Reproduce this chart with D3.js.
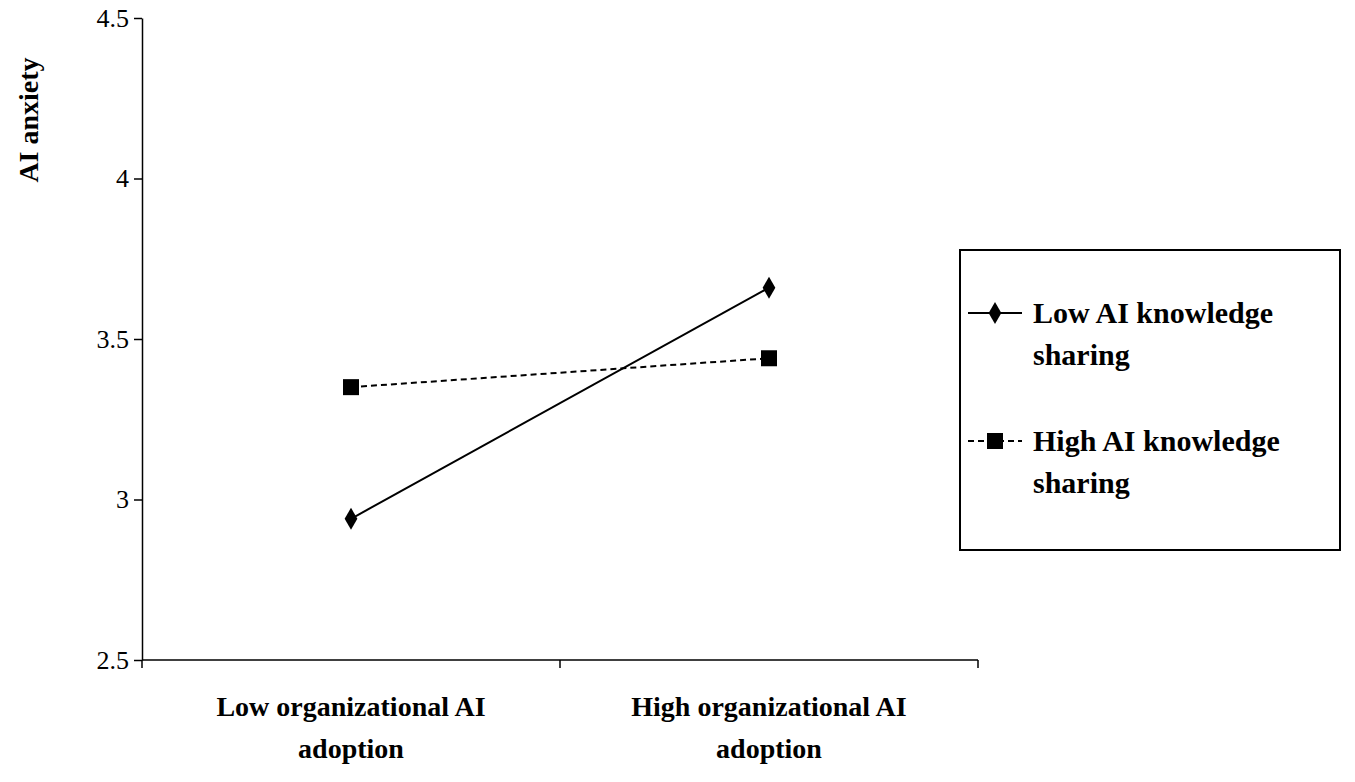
<!DOCTYPE html>
<html><head><meta charset="utf-8">
<script src="https://cdn.jsdelivr.net/npm/d3@7"></script>
<style>body{margin:0;background:#fff}svg{font-family:"Liberation Serif","Times New Roman",serif}</style>
</head><body><svg width="1355" height="782"></svg>
<script>
const categories = [["Low organizational AI","adoption"],["High organizational AI","adoption"]];
const lowKS = [2.94, 3.66];
const highKS = [3.35, 3.44];
const yTicks = [2.5, 3, 3.5, 4, 4.5];
const seriesNames = [["Low AI knowledge","sharing"],["High AI knowledge","sharing"]];

const svg = d3.select("svg");
const x0 = 142, x1 = 978, yTop = 18, yBot = 660;
const y = d3.scaleLinear().domain([2.5,4.5]).range([yBot,yTop]);
const x = d3.scaleBand().domain([0,1]).range([x0,x1]);
const cx = i => x(i) + x.bandwidth()/2;

const ya = svg.append("g").attr("transform",`translate(${x0},0)`)
  .call(d3.axisLeft(y).tickValues(yTicks).tickFormat(d3.format("")).tickSize(8).tickSizeOuter(0));
ya.selectAll("text").attr("font-size",26).attr("font-family","Liberation Serif").attr("fill","#000").attr("dx",-2);
ya.selectAll("line,path").attr("stroke","#000").attr("stroke-width",1.5);

const xa = svg.append("g").attr("transform",`translate(0,${yBot})`);
xa.append("line").attr("x1",x0).attr("x2",x1).attr("stroke","#000").attr("stroke-width",1.5);
[x0, x0+x.bandwidth(), x1].forEach(v=>xa.append("line").attr("x1",v).attr("x2",v).attr("y2",8).attr("stroke","#000").attr("stroke-width",1.5));
categories.forEach((c,i)=>{
  const t = svg.append("text").attr("x",cx(i)).attr("y",yBot+56).attr("text-anchor","middle")
   .attr("font-size",28).attr("font-weight","bold");
  c.forEach((s,j)=>t.append("tspan").attr("x",cx(i)).attr("dy",j?42:0).text(s));
});

svg.append("text").attr("transform","translate(38,120) rotate(-90)").attr("text-anchor","middle")
  .attr("font-size",28).attr("font-weight","bold").text("AI anxiety");

const line = d3.line().x((d,i)=>cx(i)).y(d=>y(d));
svg.append("path").datum(lowKS).attr("d",line).attr("fill","none").attr("stroke","#000").attr("stroke-width",2);
svg.append("path").datum(highKS).attr("d",line).attr("fill","none").attr("stroke","#000").attr("stroke-width",2).attr("stroke-dasharray","6,4");
const diamond = d3.symbol().type(d3.symbolDiamond).size(140);
lowKS.forEach((d,i)=>svg.append("path").attr("d",diamond).attr("transform",`translate(${cx(i)},${y(d)}) scale(1,1)`).attr("fill","#000"));
highKS.forEach((d,i)=>svg.append("rect").attr("x",cx(i)-8).attr("y",y(d)-8).attr("width",16).attr("height",16).attr("fill","#000"));

// legend
svg.append("rect").attr("x",960).attr("y",250).attr("width",380).attr("height",300).attr("fill","none").attr("stroke","#000").attr("stroke-width",2);
const ly = [313, 441];
ly.forEach((yy,k)=>{
  svg.append("line").attr("x1",968).attr("x2",1022).attr("y1",yy).attr("y2",yy).attr("stroke","#000").attr("stroke-width",2)
    .attr("stroke-dasharray",k?"6,4":null);
  if(k) svg.append("rect").attr("x",987).attr("y",yy-8).attr("width",16).attr("height",16);
  else svg.append("path").attr("d",diamond).attr("transform",`translate(995,${yy})`);
  const t = svg.append("text").attr("x",1033).attr("y",yy+10).attr("font-size",30).attr("font-weight","bold");
  seriesNames[k].forEach((s,j)=>t.append("tspan").attr("x",1033).attr("dy",j?42:0).text(s));
});
</script></body></html>
